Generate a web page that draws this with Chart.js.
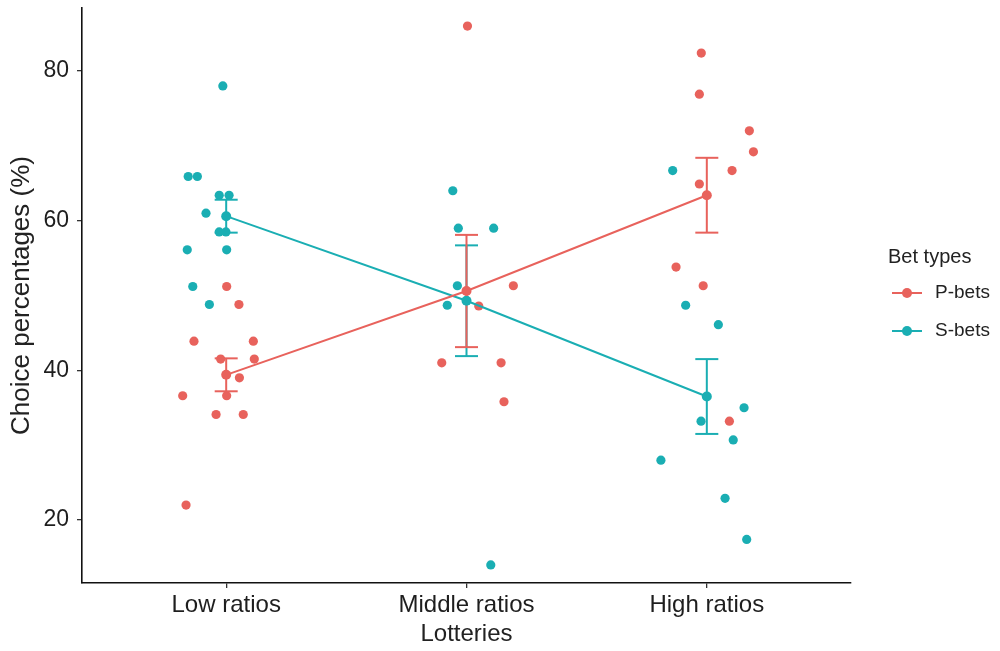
<!DOCTYPE html>
<html>
<head>
<meta charset="utf-8">
<script src="https://cdn.jsdelivr.net/npm/chart.js@4"></script>
<style>
    html, body { margin: 0; padding: 0; background: #fff; }
    #wrap { width: 1000px; height: 651px; position: relative; }
</style>
</head>
<body>
<div id="wrap"><canvas id="betChart" width="1000" height="651"></canvas></div>
<script>
// Categories on the x axis (positions 1, 2, 3)
const categories = ['Low ratios', 'Middle ratios', 'High ratios'];
const seriesNames = ['P-bets', 'S-bets'];
const yTicks = [20, 40, 60, 80];

// Individual (jittered) observations, x = category position + jitter
const pBetsX = [1.002, 1.053, 0.866, 1.113, 0.977, 1.117, 1.055, 0.819, 1.002, 0.958, 1.071, 0.833,
                2.004, 2.195, 2.051, 1.897, 2.144, 2.156,
                2.977, 2.969, 3.177, 3.194, 3.105, 2.969, 2.872, 2.985, 3.094];
const pBetsY = [51.2, 48.8, 43.9, 43.9, 41.5, 41.5, 39.0, 36.6, 36.6, 34.1, 34.1, 22.0,
                86.0, 51.3, 48.6, 41.0, 41.0, 35.8,
                82.4, 76.9, 72.0, 69.2, 66.7, 64.9, 53.8, 51.3, 33.2];
const sBetsX = [0.986, 0.842, 0.880, 0.971, 1.012, 0.916, 0.971, 0.999, 0.838, 1.002, 0.861, 0.930,
                1.943, 1.966, 2.113, 1.962, 1.920, 2.101,
                2.858, 2.912, 3.048, 3.155, 2.976, 3.110, 2.809, 3.076, 3.166];
const sBetsY = [78.0, 65.9, 65.9, 63.4, 63.4, 61.0, 58.5, 58.5, 56.1, 56.1, 51.2, 48.8,
                64.0, 59.0, 59.0, 51.3, 48.7, 14.0,
                66.7, 48.7, 46.1, 35.0, 33.2, 30.7, 28.0, 22.9, 17.4];

// Means and standard errors per category
const pMeans = [39.4, 50.6, 63.4];
const sMeans = [60.6, 49.3, 36.5];
const pErr = [2.2, 7.5, 5.0];
const sErr = [2.2, 7.4, 5.0];

const RED = '#E8625C';
const TEAL = '#1AAEB3';
const FONT = "'Liberation Sans', Arial, sans-serif";

function toPoints(xs, ys) {
    return xs.map((x, i) => ({ x: x, y: ys[i] }));
}

function meanPoints(means) {
    return means.map((m, i) => ({ x: i + 1, y: m }));
}

// vertical bar from mean-se to mean+se, broken by a null between categories
function errorPoints(means, errs) {
    const pts = [];
    means.forEach((m, i) => {
        pts.push({ x: i + 1, y: m - errs[i] });
        pts.push({ x: i + 1, y: m + errs[i] });
        pts.push({ x: i + 1, y: null });
    });
    return pts;
}

// Legend on the right, drawn like the ggplot guide
const betLegend = {
    id: 'betLegend',
    afterDraw(chart) {
        const ctx = chart.ctx;
        const colors = [RED, TEAL];
        ctx.save();
        ctx.fillStyle = '#222';
        ctx.font = '20px ' + FONT;
        ctx.textBaseline = 'middle';
        ctx.textAlign = 'left';
        ctx.fillText('Bet types', 888, 257);
        seriesNames.forEach((name, i) => {
            const y = 293 + i * 38;
            ctx.strokeStyle = colors[i];
            ctx.lineWidth = 2;
            ctx.beginPath();
            ctx.moveTo(892, y);
            ctx.lineTo(922, y);
            ctx.stroke();
            ctx.fillStyle = colors[i];
            ctx.beginPath();
            ctx.arc(907, y, 5, 0, Math.PI * 2);
            ctx.fill();
            ctx.fillStyle = '#222';
            ctx.font = '19px ' + FONT;
            ctx.fillText(name, 935, y);
        });
        ctx.restore();
    }
};

const ctx = document.getElementById('betChart').getContext('2d');
const betChart = new Chart(ctx, {
    type: 'scatter',
    data: {
        datasets: [
            {
                label: 'P-bets mean',
                data: meanPoints(pMeans),
                showLine: true,
                borderColor: RED,
                backgroundColor: RED,
                borderWidth: 2,
                pointRadius: 5,
                pointBorderWidth: 0
            },
            {
                label: 'S-bets mean',
                data: meanPoints(sMeans),
                showLine: true,
                borderColor: TEAL,
                backgroundColor: TEAL,
                borderWidth: 2,
                pointRadius: 5,
                pointBorderWidth: 0
            },
            {
                label: 'P-bets se',
                data: errorPoints(pMeans, pErr),
                showLine: true,
                spanGaps: false,
                borderColor: RED,
                borderWidth: 2,
                pointStyle: 'line',
                pointRadius: 11.5,
                pointBorderColor: RED,
                pointBorderWidth: 2
            },
            {
                label: 'S-bets se',
                data: errorPoints(sMeans, sErr),
                showLine: true,
                spanGaps: false,
                borderColor: TEAL,
                borderWidth: 2,
                pointStyle: 'line',
                pointRadius: 11.5,
                pointBorderColor: TEAL,
                pointBorderWidth: 2
            },
            {
                label: 'P-bets',
                data: toPoints(pBetsX, pBetsY),
                backgroundColor: RED,
                pointRadius: 4.6,
                pointBorderWidth: 0
            },
            {
                label: 'S-bets',
                data: toPoints(sBetsX, sBetsY),
                backgroundColor: TEAL,
                pointRadius: 4.6,
                pointBorderWidth: 0
            }
        ]
    },
    options: {
        responsive: false,
        animation: false,
        events: [],
        layout: {
            autoPadding: false,
            padding: { top: 8, right: 149, left: 0, bottom: 0 }
        },
        plugins: {
            legend: { display: false },
            tooltip: { enabled: false }
        },
        scales: {
            x: {
                type: 'linear',
                min: 0.4,
                max: 3.6,
                afterBuildTicks: axis => {
                    axis.ticks = categories.map((c, i) => ({ value: i + 1 }));
                },
                afterFit: axis => {
                    axis.height = 68;
                    axis.paddingLeft = 0;
                    axis.paddingRight = 0;
                },
                ticks: {
                    callback: v => categories[Math.round(v) - 1],
                    color: '#1e1e1e',
                    font: { family: FONT, size: 24 },
                    padding: 3,
                    maxRotation: 0
                },
                grid: {
                    drawOnChartArea: false,
                    tickLength: 5,
                    color: '#333',
                    lineWidth: 1.3
                },
                border: { display: true, color: '#111', width: 1.6 },
                title: {
                    display: true,
                    text: 'Lotteries',
                    color: '#222',
                    font: { family: FONT, size: 24 },
                    padding: { top: 0, bottom: 2 }
                }
            },
            y: {
                min: 11.58,
                max: 88.42,
                afterBuildTicks: axis => {
                    axis.ticks = yTicks.map(v => ({ value: v }));
                },
                afterFit: axis => {
                    axis.width = 82;
                    axis.paddingTop = 0;
                    axis.paddingBottom = 0;
                },
                ticks: {
                    color: '#1e1e1e',
                    font: { family: FONT, size: 23 },
                    padding: 8
                },
                grid: {
                    drawOnChartArea: false,
                    tickLength: 5,
                    color: '#333',
                    lineWidth: 1.3
                },
                border: { display: true, color: '#111', width: 1.6 },
                title: {
                    display: true,
                    text: 'Choice percentages (%)',
                    color: '#222',
                    font: { family: FONT, size: 26 },
                    padding: { top: 6, bottom: 0 }
                }
            }
        }
    },
    plugins: [betLegend]
});
</script>
</body>
</html>
